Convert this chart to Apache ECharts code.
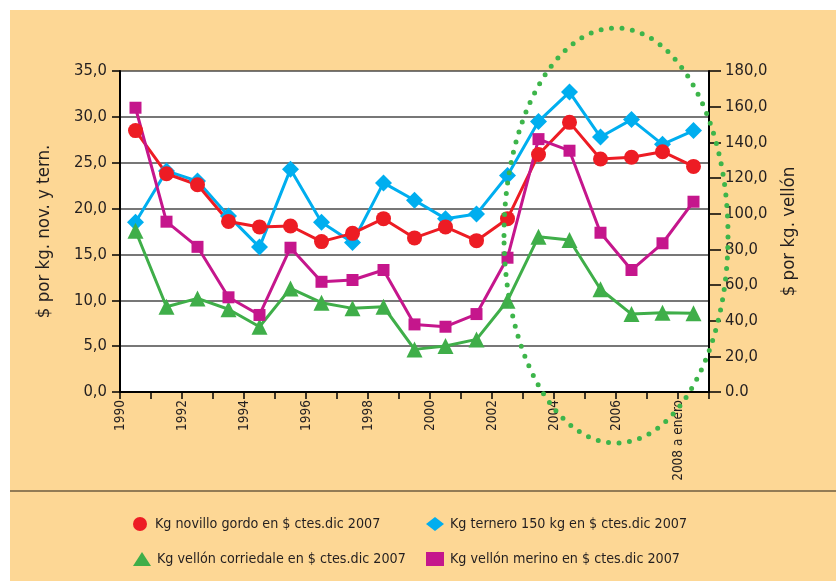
<!DOCTYPE html>
<html>
<head>
<meta charset="utf-8">
<script src="https://cdn.jsdelivr.net/npm/echarts@6/dist/echarts.min.js"></script>
<style>
html,body{margin:0;padding:0;background:#fff;}
#chart{width:836px;height:581px;}
</style>
</head>
<body>
<div id="chart"></div>
<script>
var years = [1990,1991,1992,1993,1994,1995,1996,1997,1998,1999,2000,2001,2002,2003,2004,2005,2006,2007,2008];
var xTickLabels = {1990:'1990',1992:'1992',1994:'1994',1996:'1996',1998:'1998',2000:'2000',2002:'2002',2004:'2004',2006:'2006',2008:'2008 a enero'};
var leftTickLabels = ['0,0','5,0','10,0','15,0','20,0','25,0','30,0','35,0'];
var rightTickLabels = ['0.0','20,0','40,0','60,0','80,0','100,0','120,0','140,0','160,0','180,0'];

var novillo = [28.5,23.8,22.6,18.6,18.0,18.1,16.4,17.3,18.9,16.8,18.0,16.5,18.9,25.9,29.4,25.4,25.6,26.2,24.6];
var ternero = [18.5,24.1,23.0,19.2,15.8,24.3,18.5,16.3,22.8,20.9,18.9,19.4,23.6,29.5,32.7,27.8,29.7,27.0,28.5];
var corriedale = [90.4,47.8,52.5,46.4,36.6,58.1,50.1,46.9,47.8,23.9,25.8,29.5,51.2,87.1,85.2,57.6,43.7,44.5,44.1];
var merino = [159.4,95.5,81.4,53.1,43.2,80.9,61.8,62.8,68.4,37.9,36.6,43.7,75.3,141.8,135.3,89.3,68.4,83.4,106.7];

var names = ['Kg novillo gordo en $ ctes.dic 2007','Kg ternero 150 kg en $ ctes.dic 2007','Kg vellón corriedale en $ ctes.dic 2007','Kg vellón merino en $ ctes.dic 2007'];

var FONT = '"Liberation Sans Narrow","DejaVu Sans Condensed","Liberation Sans",sans-serif';
var TXT = '#231f20';

function pts(vals){ return years.map(function(y,i){ return [y+0.5, vals[i]]; }); }

var chart = echarts.init(document.getElementById('chart'), null, {renderer:'canvas'});

function legendAt(name, icon, left, top){
  return {
    data:[{name:name, icon:icon}],
    left:left, top:top, itemWidth:18, itemHeight:14, itemGap:0,
    selectedMode:false,
    textStyle:{fontFamily:FONT, fontSize:14.2, color:TXT, padding:[0,0,0,1]}
  };
}

var option = {
  animation:false,
  backgroundColor:'#fff',
  textStyle:{fontFamily:FONT},
  graphic:[
    {type:'rect', left:10, top:10, shape:{width:826, height:571}, style:{fill:'#FDD795'}, z:-10, silent:true},
    {type:'line', shape:{x1:10, y1:491, x2:836, y2:491}, style:{stroke:'#6e5c40', lineWidth:1.5}, silent:true},
    {type:'ellipse', shape:{cx:616, cy:235.5, rx:112, ry:207.5},
     style:{fill:null, stroke:'#3db54a', lineWidth:5, lineDash:[0,10.5], lineCap:'round'}, z:100, silent:true}
  ],
  grid:{left:120, right:127, top:71, bottom:189, show:true, backgroundColor:'#fff', borderWidth:0},
  legend:[
    legendAt(names[0],'circle',128,512),
    legendAt(names[1],'diamond',421,512),
    legendAt(names[2],'triangle',128,547),
    legendAt(names[3],'rect',421,547)
  ],
  xAxis:{
    type:'value', min:1990, max:2009, interval:1,
    axisLine:{show:true, onZero:false, lineStyle:{color:'#000', width:2}},
    axisTick:{show:true, length:7, lineStyle:{color:'#000', width:1.5}},
    splitLine:{show:false},
    axisLabel:{
      rotate:90, margin:8, fontFamily:FONT, fontSize:13.5, color:TXT,
      formatter:function(v){ return xTickLabels[v] || ''; }
    }
  },
  yAxis:[
    {
      type:'value', min:0, max:35, interval:5, position:'left',
      name:'$ por kg. nov. y tern.', nameLocation:'middle', nameRotate:90, nameGap:66,
      nameTextStyle:{fontFamily:FONT, fontSize:18.5, color:TXT},
      axisLine:{show:true, lineStyle:{color:'#000', width:2}},
      axisTick:{show:true, length:8, lineStyle:{color:'#000', width:1.5}},
      axisLabel:{margin:13, fontFamily:FONT, fontSize:16.5, color:TXT,
        formatter:function(v){ return leftTickLabels[Math.round(v/5)]; }},
      splitLine:{show:true, lineStyle:{color:'#4a4a4a', width:1.5}}
    },
    {
      type:'value', min:0, max:180, interval:20, position:'right',
      name:'$ por kg. vellón', nameLocation:'middle', nameRotate:90, nameGap:71,
      nameTextStyle:{fontFamily:FONT, fontSize:18.5, color:TXT},
      axisLine:{show:true, lineStyle:{color:'#000', width:2}},
      axisTick:{show:true, length:12, lineStyle:{color:'#000', width:1.5}},
      axisLabel:{margin:16, fontFamily:FONT, fontSize:16.5, color:TXT,
        formatter:function(v){ return rightTickLabels[Math.round(v/20)]; }},
      splitLine:{show:false}
    }
  ],
  series:[
    {name:names[1], type:'line', yAxisIndex:0, data:pts(ternero), symbol:'diamond', symbolSize:17,
     itemStyle:{color:'#00aeef'}, lineStyle:{color:'#00aeef', width:3}},
    {name:names[0], type:'line', yAxisIndex:0, data:pts(novillo), symbol:'circle', symbolSize:15,
     itemStyle:{color:'#ed1c24'}, lineStyle:{color:'#ed1c24', width:3}},
    {name:names[2], type:'line', yAxisIndex:1, data:pts(corriedale), symbol:'triangle', symbolSize:16,
     itemStyle:{color:'#3fae49'}, lineStyle:{color:'#3fae49', width:3}},
    {name:names[3], type:'line', yAxisIndex:1, data:pts(merino), symbol:'rect', symbolSize:12,
     itemStyle:{color:'#c5168c'}, lineStyle:{color:'#c5168c', width:3}}
  ]
};
chart.setOption(option);
</script>
</body>
</html>
